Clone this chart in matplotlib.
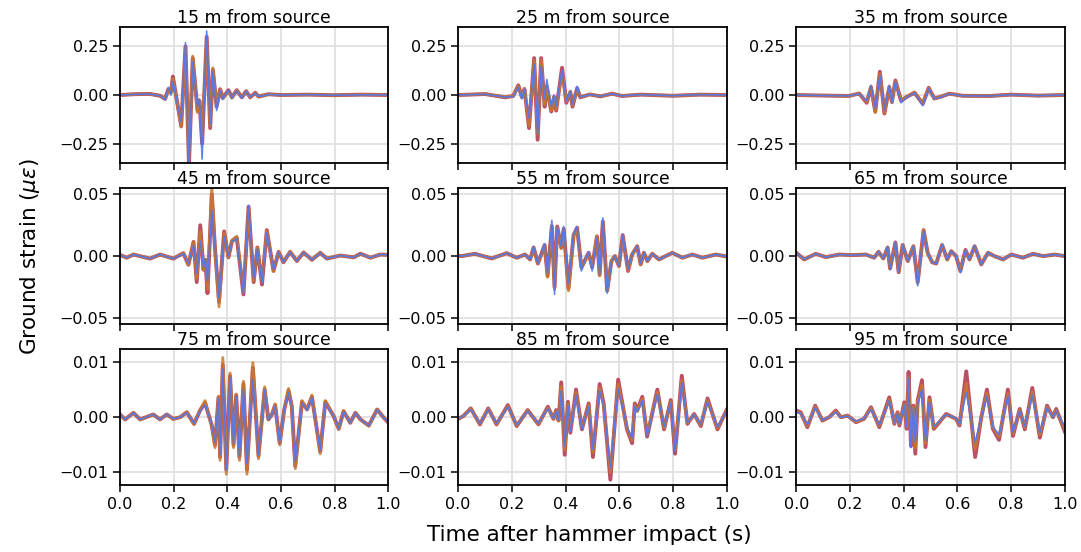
import matplotlib
matplotlib.use("Agg")
import matplotlib.pyplot as plt
import numpy as np

# Ground strain traces (microstrain) at each offset, three repeat shots.
DISTANCES = [15, 25, 35, 45, 55, 65, 75, 85, 95]
ROW_LIMITS = [0.35, 0.055, 0.0123]
ROW_TICKS = [[-0.25, 0.0, 0.25], [-0.05, 0.0, 0.05], [-0.01, 0.0, 0.01]]
XTICKS = [0.0, 0.2, 0.4, 0.6, 0.8, 1.0]

t15 = [0.00, 0.05, 0.11, 0.15, 0.168, 0.18, 0.19, 0.197, 0.228, 0.244, 0.257, 0.271, 0.289, 0.296, 0.306,
       0.323, 0.336, 0.346, 0.36, 0.373, 0.383, 0.404, 0.417, 0.435, 0.454, 0.47, 0.485, 0.504, 0.516, 0.553,
       0.60, 0.70, 0.80, 0.90, 1.00]
red15 = [0, 0.004, 0.006, -0.004, -0.02, 0.03, 0.015, 0.095, -0.16, 0.25, -0.36, 0.19, -0.08, -0.03, -0.25,
         0.30, -0.17, 0.13, -0.06, 0.03, -0.015, 0.025, -0.012, 0.025, -0.012, 0.02, -0.012, 0.012, -0.008, 0.004,
         0, 0.002, -0.001, 0.002, 0]
orange15 = [0, 0.004, 0.006, -0.004, -0.02, 0.025, 0.01, 0.085, -0.165, 0.24, -0.33, 0.2, -0.09, -0.03, -0.22,
            0.28, -0.16, 0.14, -0.05, 0.03, -0.02, 0.02, -0.015, 0.022, -0.01, 0.018, -0.01, 0.01, -0.008, 0.004,
            0, 0.002, -0.001, 0.002, 0]
blue15 = [0, 0.003, 0.005, -0.004, -0.025, 0.04, 0.0, 0.07, -0.14, 0.27, -0.38, 0.17, -0.06, -0.02, -0.33,
          0.33, -0.15, 0.12, -0.08, 0.025, -0.02, 0.025, -0.015, 0.02, -0.015, 0.02, -0.01, 0.01, -0.008, 0.003,
          0, 0.002, -0.001, 0.001, 0]

t25 = [0.00, 0.10, 0.175, 0.205, 0.224, 0.237, 0.247, 0.264, 0.283, 0.296, 0.309, 0.322, 0.330, 0.347, 0.357,
       0.365, 0.387, 0.403, 0.418, 0.426, 0.443, 0.455, 0.49, 0.53, 0.574, 0.61, 0.68, 0.80, 0.90, 1.00]
red25 = [0, 0.005, -0.012, -0.005, 0.05, -0.01, 0.03, -0.17, 0.19, -0.23, 0.19, -0.06, 0.04, -0.085, -0.01,
         -0.08, 0.14, -0.04, 0.015, -0.06, 0.035, -0.012, 0.003, -0.007, 0.007, -0.005, 0.002, -0.004, 0.002, 0]
orange25 = [0, 0.005, -0.01, -0.005, 0.045, -0.012, 0.035, -0.16, 0.18, -0.2, 0.18, -0.05, 0.05, -0.08, -0.01,
            -0.075, 0.12, -0.035, 0.02, -0.055, 0.035, -0.01, 0.003, -0.006, 0.006, -0.004, 0.002, -0.003, 0.002, 0]
blue25 = [0, 0.004, -0.01, -0.008, 0.04, -0.02, 0.03, -0.12, 0.16, -0.2, 0.15, -0.02, 0.08, -0.06, 0.0,
          -0.06, 0.13, -0.03, 0.02, -0.05, 0.045, -0.01, 0.002, -0.006, 0.006, -0.004, 0.002, -0.003, 0.002, 0]

t35 = [0.00, 0.07, 0.196, 0.234, 0.262, 0.278, 0.294, 0.311, 0.328, 0.346, 0.356, 0.369, 0.390, 0.408, 0.44,
       0.471, 0.493, 0.514, 0.54, 0.57, 0.62, 0.72, 0.80, 0.90, 1.00]
red35 = [0, -0.002, -0.005, 0.008, -0.04, 0.04, -0.085, 0.12, -0.095, 0.04, -0.035, 0.075, -0.03, -0.012, 0.012,
         -0.045, 0.037, -0.018, -0.008, 0.007, -0.004, -0.005, 0.002, -0.003, 0]
orange35 = [0, -0.002, -0.005, 0.008, -0.035, 0.045, -0.09, 0.11, -0.09, 0.045, -0.04, 0.07, -0.03, -0.012, 0.015,
            -0.045, 0.035, -0.018, -0.008, 0.007, -0.004, -0.005, 0.002, -0.003, 0]
blue35 = [0, -0.002, -0.004, 0.006, -0.03, 0.05, -0.07, 0.1, -0.08, 0.05, -0.04, 0.07, -0.04, -0.015, 0.012,
          -0.055, 0.035, -0.02, -0.01, 0.006, -0.004, -0.005, 0.002, -0.003, 0]

t45 = [0.00, 0.025, 0.05, 0.112, 0.149, 0.199, 0.236, 0.255, 0.274, 0.286, 0.299, 0.311, 0.318, 0.326, 0.342,
       0.354, 0.369, 0.388, 0.404, 0.417, 0.435, 0.46, 0.479, 0.498, 0.512, 0.529, 0.547, 0.572, 0.591, 0.609,
       0.634, 0.659, 0.684, 0.715, 0.746, 0.771, 0.821, 0.871, 0.896, 0.933, 0.97, 1.00]
red45 = [0.001, -0.0013, 0.0013, -0.002, 0.0013, -0.002, 0.0024, -0.007, 0.0115, -0.021, 0.025, -0.011, -0.003,
         -0.03, 0.05, 0.006, -0.037, 0.02, -0.001, 0.012, 0.015, -0.031, 0.04, -0.021, 0.007, -0.023, 0.021, -0.012,
         0.0035, -0.005, 0.0035, -0.004, 0.003, -0.003, 0.0027, -0.002, 0.0005, -0.001, 0.002, -0.0013, 0.0013, 0.001]
orange45 = [0.001, -0.0013, 0.0013, -0.002, 0.0013, -0.002, 0.0024, -0.007, 0.011, -0.018, 0.02, -0.011, -0.003,
            -0.027, 0.056, 0.006, -0.041, 0.019, -0.001, 0.013, 0.016, -0.029, 0.038, -0.02, 0.007, -0.02, 0.02,
            -0.012, 0.0035, -0.005, 0.0035, -0.004, 0.003, -0.003, 0.0027, -0.002, 0.0005, -0.001, 0.002, -0.0013,
            0.0013, 0.001]
blue45 = [0.001, -0.0013, 0.0013, -0.002, 0.0013, -0.002, 0.002, -0.006, 0.009, -0.014, 0.012, -0.009, -0.002,
          -0.02, 0.037, 0.008, -0.034, 0.016, 0.0, 0.012, 0.014, -0.03, 0.041, -0.018, 0.006, -0.021, 0.019, -0.011,
          0.003, -0.005, 0.003, -0.004, 0.003, -0.003, 0.0025, -0.002, 0.0005, -0.001, 0.002, -0.0013, 0.0013, 0.001]

t55 = [0.00, 0.012, 0.062, 0.125, 0.181, 0.218, 0.249, 0.268, 0.281, 0.297, 0.322, 0.333, 0.349, 0.359, 0.369,
       0.384, 0.393, 0.411, 0.43, 0.443, 0.459, 0.471, 0.486, 0.499, 0.517, 0.527, 0.539, 0.555, 0.571, 0.584,
       0.599, 0.613, 0.633, 0.648, 0.667, 0.68, 0.692, 0.705, 0.723, 0.748, 0.798, 0.835, 0.873, 0.91, 0.96, 1.00]
red55 = [0.0003, 0, 0.0019, -0.0019, 0.0024, -0.0013, 0.0013, -0.0027, 0.007, -0.006, 0.009, -0.016, 0.024, -0.025,
         0.024, 0.007, 0.022, -0.026, 0.017, 0.023, -0.009, -0.004, 0.0027, -0.009, 0.016, -0.015, 0.028, -0.028,
         -0.004, 0, -0.008, 0.017, -0.012, 0.0013, 0.008, -0.0067, 0.0027, -0.004, 0.0019, -0.0027, 0.0027, -0.0013,
         0.0013, -0.0013, 0.0013, -0.0003]
orange55 = [0.0003, 0, 0.0019, -0.0019, 0.0024, -0.0013, 0.0013, -0.0027, 0.007, -0.006, 0.009, -0.017, 0.025,
            -0.027, 0.024, 0.006, 0.021, -0.028, 0.016, 0.022, -0.01, -0.005, 0.0027, -0.009, 0.016, -0.016, 0.028,
            -0.028, -0.004, 0, -0.008, 0.016, -0.012, 0.0013, 0.008, -0.0067, 0.0027, -0.004, 0.0019, -0.0027, 0.0027,
            -0.0013, 0.0013, -0.0013, 0.0013, -0.0003]
blue55 = [0.0003, 0, 0.0019, -0.0019, 0.0024, -0.0013, 0.0013, -0.0027, 0.0075, -0.006, 0.01, -0.014, 0.029,
          -0.031, 0.024, 0.008, 0.024, -0.022, 0.018, 0.024, -0.012, -0.004, 0.003, -0.012, 0.015, -0.014, 0.031,
          -0.03, -0.004, 0, -0.008, 0.017, -0.011, 0.0013, 0.008, -0.006, 0.0027, -0.004, 0.0019, -0.0027, 0.0027,
          -0.0013, 0.0013, -0.0013, 0.0013, -0.0003]

t65 = [0.00, 0.029, 0.072, 0.11, 0.16, 0.209, 0.259, 0.29, 0.306, 0.324, 0.34, 0.349, 0.369, 0.381, 0.396, 0.415,
       0.436, 0.452, 0.474, 0.489, 0.506, 0.521, 0.543, 0.562, 0.577, 0.595, 0.611, 0.63, 0.645, 0.664, 0.689,
       0.714, 0.738, 0.77, 0.801, 0.844, 0.882, 0.919, 0.963, 1.00]
red65 = [0.0027, -0.0027, 0.0019, -0.0008, 0.0013, 0.0008, 0.0013, -0.0013, 0.0035, -0.0019, 0.007, -0.01, 0.011,
         -0.013, 0.009, -0.004, 0.008, -0.021, 0.021, 0.0027, -0.005, -0.006, 0.009, -0.0027, 0.004, 0, -0.012,
         0.005, -0.0027, 0.008, -0.0067, 0.0027, 0, -0.0027, 0.0013, -0.0013, 0.0019, 0, 0.0013, 0]
orange65 = [0.0027, -0.0027, 0.0019, -0.0008, 0.0013, 0.0008, 0.0013, -0.0013, 0.0035, -0.0019, 0.007, -0.01,
            0.011, -0.013, 0.009, -0.004, 0.008, -0.022, 0.021, 0.0027, -0.005, -0.006, 0.009, -0.0027, 0.004, 0,
            -0.012, 0.005, -0.0027, 0.008, -0.0067, 0.0027, 0, -0.0027, 0.0013, -0.0013, 0.0019, 0, 0.0013, 0]
blue65 = [0.0027, -0.0027, 0.0019, -0.0008, 0.0013, 0.0008, 0.0013, -0.0013, 0.0035, -0.0019, 0.0075, -0.011,
          0.012, -0.013, 0.009, -0.004, 0.008, -0.024, 0.02, 0.0027, -0.005, -0.006, 0.0095, -0.0027, 0.004, 0,
          -0.0135, 0.005, -0.0027, 0.0085, -0.0067, 0.0027, 0, -0.0027, 0.0013, -0.0013, 0.0019, 0, 0.0013, 0]

t75 = [0.00, 0.019, 0.05, 0.075, 0.124, 0.149, 0.174, 0.199, 0.224, 0.249, 0.276, 0.299, 0.317, 0.33, 0.342,
       0.354, 0.367, 0.373, 0.383, 0.396, 0.41, 0.423, 0.433, 0.445, 0.46, 0.473, 0.495, 0.516, 0.539, 0.553,
       0.566, 0.578, 0.595, 0.612, 0.628, 0.64, 0.653, 0.678, 0.697, 0.715, 0.746, 0.765, 0.796, 0.815, 0.833,
       0.858, 0.877, 0.896, 0.927, 0.958, 0.983, 1.00]
red75 = [0.0005, -0.0004, 0.0008, -0.0004, 0.0005, -0.0004, 0.0005, -0.0003, 0, 0.0009, -0.0012, 0.0013, 0.0026,
         0.0005, -0.0015, -0.005, 0.0036, -0.0072, 0.0095, -0.0095, 0.0075, -0.005, 0.004, -0.0072, 0.006, -0.0095,
         0.009, -0.007, 0.005, -0.0004, 0.0005, 0.0022, -0.0047, 0.0014, 0.0048, 0.002, -0.0088, 0.0028, 0.0014,
         0.0037, -0.0062, 0.0028, 0.0002, -0.0021, 0.0011, -0.001, 0.0008, -0.0004, -0.0015, 0.0014, -0.0001, -0.001]
orange75 = [0.0005, -0.0004, 0.0008, -0.0004, 0.0005, -0.0004, 0.0005, -0.0003, 0, 0.0009, -0.0013, 0.0014, 0.003,
            0.0005, -0.0016, -0.0055, 0.0038, -0.0078, 0.0108, -0.0103, 0.008, -0.0055, 0.0042, -0.0078, 0.0065,
            -0.0103, 0.0099, -0.0075, 0.0055, -0.0004, 0.0005, 0.0024, -0.005, 0.0014, 0.0052, 0.002, -0.0093, 0.003,
            0.0014, 0.004, -0.0066, 0.003, 0.0002, -0.0022, 0.0011, -0.001, 0.0008, -0.0004, -0.0016, 0.0014,
            -0.0001, -0.001]
blue75 = [0.0005, -0.0004, 0.0008, -0.0004, 0.0005, -0.0004, 0.0005, -0.0003, 0, 0.0008, -0.0011, 0.0012, 0.0022,
          0.0005, -0.0014, -0.0045, 0.0034, -0.0068, 0.0087, -0.0095, 0.0072, -0.0048, 0.0038, -0.007, 0.005, -0.0085,
          0.0068, -0.0068, 0.005, -0.0004, 0.0005, 0.002, -0.0045, 0.0013, 0.0045, 0.0018, -0.008, 0.0026, 0.0013,
          0.0035, -0.006, 0.0026, 0.0002, -0.002, 0.001, -0.001, 0.0008, -0.0004, -0.0015, 0.0013, -0.0001, -0.001]

t85 = [0.00, 0.019, 0.047, 0.081, 0.112, 0.143, 0.185, 0.218, 0.259, 0.299, 0.334, 0.355, 0.365, 0.374, 0.384,
       0.397, 0.409, 0.418, 0.439, 0.461, 0.486, 0.502, 0.527, 0.542, 0.567, 0.596, 0.629, 0.648, 0.658, 0.667,
       0.686, 0.704, 0.742, 0.767, 0.773, 0.792, 0.808, 0.833, 0.854, 0.879, 0.904, 0.929, 0.966, 1.00]
red85 = [-0.0003, 0.0002, 0.0016, -0.0013, 0.0016, -0.0013, 0.0022, -0.0016, 0.0013, -0.0013, 0.0019, -0.0003,
         0.0013, -0.0006, 0.0063, -0.0068, 0.0028, -0.0028, 0.005, -0.0022, 0.0025, -0.0072, 0.006, 0.0025, -0.0113,
         0.0068, -0.0022, -0.0047, 0.0025, 0.0012, 0.0037, -0.0035, 0.005, -0.0022, -0.0009, 0.0031, -0.0066, 0.0075,
         -0.0012, 0.0006, -0.0016, 0.0034, -0.0022, 0.0013]
orange85 = [-0.0003, 0.0002, 0.0015, -0.0012, 0.0015, -0.0012, 0.002, -0.0015, 0.0012, -0.0012, 0.0017, -0.0003,
            0.0012, -0.0006, 0.0056, -0.006, 0.0025, -0.0025, 0.0045, -0.002, 0.0022, -0.0064, 0.0053, 0.0022, -0.01,
            0.006, -0.002, -0.0042, 0.0022, 0.0011, 0.0033, -0.0031, 0.0045, -0.002, -0.0008, 0.0028, -0.0059, 0.0067,
            -0.0011, 0.0005, -0.0014, 0.003, -0.002, 0.0012]
blue85 = [-0.0003, 0.0002, 0.0014, -0.0011, 0.0014, -0.0011, 0.0019, -0.0014, 0.0011, -0.0011, 0.0016, -0.0003,
          0.0011, -0.0005, 0.0047, -0.0052, 0.0022, -0.0026, 0.004, -0.0022, 0.002, -0.0058, 0.0048, 0.002, -0.0092,
          0.0052, -0.0018, -0.0038, 0.002, 0.001, 0.003, -0.0034, 0.0042, -0.0018, -0.0007, 0.0026, -0.0062, 0.0063,
          -0.001, 0.0005, -0.0013, 0.0028, -0.0018, 0.0011]

t95 = [0.00, 0.016, 0.041, 0.07, 0.097, 0.122, 0.147, 0.166, 0.191, 0.222, 0.252, 0.278, 0.309, 0.346, 0.365,
       0.377, 0.384, 0.402, 0.411, 0.418, 0.427, 0.436, 0.443, 0.452, 0.468, 0.481, 0.496, 0.512, 0.533, 0.558,
       0.595, 0.608, 0.633, 0.666, 0.689, 0.71, 0.732, 0.755, 0.788, 0.807, 0.832, 0.851, 0.879, 0.907, 0.934,
       0.956, 0.968, 1.00]
red95 = [0.0012, 0.0009, -0.0018, 0.0021, -0.0006, 0, 0.0012, 0, 0.0003, -0.0009, -0.0003, 0.0018, -0.0018, 0.0036,
         -0.0012, 0.0009, -0.0015, 0.0027, -0.0021, 0.0082, -0.0052, 0.0021, -0.0066, 0.003, 0.0067, -0.0054, 0.0036,
         -0.0021, -0.0009, 0.0006, -0.0003, -0.0015, 0.0083, -0.0072, 0, 0.005, -0.0021, -0.0041, 0.005, -0.0034,
         0.0015, -0.0022, 0.0053, -0.0037, 0.0021, 0, 0.0015, -0.0026]
orange95 = [0.001, 0.0008, -0.0016, 0.0019, -0.0005, 0, 0.001, 0, 0.0003, -0.0008, -0.0003, 0.0016, -0.0016, 0.0032,
            -0.0011, 0.0008, -0.0013, 0.0024, -0.0019, 0.0072, -0.0047, 0.0019, -0.0055, 0.0027, 0.0058, -0.0047,
            0.0032, -0.0019, -0.0008, 0.0005, -0.0003, -0.0013, 0.0062, -0.0058, 0, 0.0043, -0.0019, -0.0035, 0.0043,
            -0.003, 0.0013, -0.0019, 0.0046, -0.0032, 0.0019, 0, 0.0013, -0.0022]
blue95 = [0.0009, 0.0007, -0.0014, 0.0017, -0.0005, 0, 0.0009, 0, 0.0002, -0.0007, -0.0002, 0.0014, -0.0014, 0.003,
          -0.001, 0.0007, -0.0012, 0.0022, -0.0018, 0.007, -0.0055, 0.0017, -0.0045, 0.0024, 0.005, -0.0042, 0.0028,
          -0.0017, -0.0007, 0.0005, -0.0002, -0.0012, 0.0045, -0.0045, 0, 0.0038, -0.0017, -0.0032, 0.0038, -0.0027,
          0.0012, -0.0017, 0.004, -0.0028, 0.0017, 0, 0.0012, -0.0018]

TIMES = [t15, t25, t35, t45, t55, t65, t75, t85, t95]
SHOTS_RED = [red15, red25, red35, red45, red55, red65, red75, red85, red95]
SHOTS_ORANGE = [orange15, orange25, orange35, orange45, orange55, orange65, orange75, orange85, orange95]
SHOTS_BLUE = [blue15, blue25, blue35, blue45, blue55, blue65, blue75, blue85, blue95]


def fmt(v, digits):
    # tick text with a proper minus sign
    return f"{v:.{digits}f}".replace("-", "\u2212")


plt.rcParams["font.family"] = "DejaVu Sans"
fig, axes = plt.subplots(3, 3, figsize=(10.81, 5.52), dpi=100, sharex=True)
plt.subplots_adjust(left=0.111, right=0.985, top=0.951, bottom=0.121, wspace=0.26, hspace=0.185)

for i, ax in enumerate(axes.flat):
    row = i // 3
    t = np.array(TIMES[i])
    ax.plot(t, SHOTS_RED[i], color="#b03048", lw=2.8, alpha=0.85, solid_joinstyle="round")
    ax.plot(t, SHOTS_ORANGE[i], color="#c8792e", lw=2.1, alpha=0.85, solid_joinstyle="round")
    ax.plot(t, SHOTS_BLUE[i], color="#4f78f2", lw=1.2, alpha=0.9, solid_joinstyle="round")
    ax.set_title(f"{DISTANCES[i]} m from source", fontsize=12.4, pad=2)
    ax.set_xlim(0, 1)
    ax.set_ylim(-ROW_LIMITS[row], ROW_LIMITS[row])
    ax.set_yticks(ROW_TICKS[row])
    ax.set_yticklabels([fmt(v, 2) for v in ROW_TICKS[row]])
    ax.set_xticks(XTICKS)
    ax.grid(True, color="#e0e0e0", lw=1.3)
    ax.set_axisbelow(True)
    ax.tick_params(labelsize=11.5, length=5, width=1.1)
    for sp in ax.spines.values():
        sp.set_linewidth(1.3)

for ax in axes[-1]:
    ax.set_xticklabels([fmt(v, 1) for v in XTICKS])

fig.text(0.545, 0.03, "Time after hammer impact (s)", ha="center", va="center", fontsize=15.5)
fig.text(0.028, 0.535, r"Ground strain ($\mu\varepsilon$)", ha="center", va="center",
         rotation=90, fontsize=15.5)

fig.savefig("out.png", dpi=100, facecolor="white")
